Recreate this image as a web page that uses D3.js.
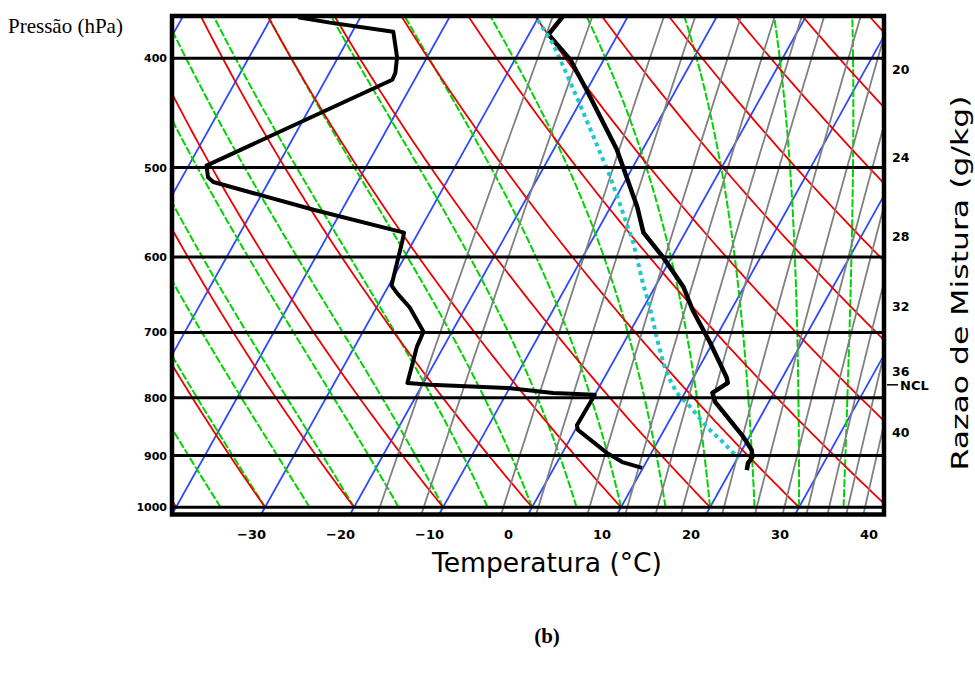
<!DOCTYPE html>
<html>
<head>
<meta charset="utf-8">
<script src="https://cdn.jsdelivr.net/npm/d3@7"></script>
<style>
  body { margin: 0; background: #fff; }
  svg { display: block; }
</style>
</head>
<body>
<div id="chart"></div>
<script>
// ---- dados ----
// niveis de pressao (hPa) e rotulos de temperatura (C)
const pressLevels = [400, 500, 600, 700, 800, 900, 1000];
const tempTicks = [-30, -20, -10, 0, 10, 20, 30, 40];

// linhas de fundo do diagrama skew-T
const isotherms = [-110, -100, -90, -80, -70, -60, -50, -40, -30, -20, -10, 0, 10, 20, 30, 40];
const dryTheta = [-40, -30, -20, -10, 0, 10, 20, 30, 40, 50, 60, 70, 80, 90, 100, 110];
const moistThw = [-40, -35, -30, -25, -20, -15, -10, -5, 0, 5, 10, 15, 20, 25, 30, 35];
const mixRatios = [1, 1.5, 3, 4, 6, 8, 10, 12, 16, 20, 24, 28, 32, 36, 40];
const mixLabels = [20, 24, 28, 32, 36, 40];
const mixLabelP = [410, 490, 576, 665, 759, 860];
const nclP = 779;

// sondagem: temperatura
const tempP = [367, 381, 401, 427, 482, 542, 571, 600, 638, 669, 715, 767, 776, 792, 807, 866, 890, 903, 914, 927];
const tempT = [-27.3, -27.8, -23.8, -20.0, -12.9, -7.0, -4.7, -1.0, 3.2, 5.7, 9.7, 13.7, 14.2, 13.1, 14.0, 19.3, 21.1, 21.6, 21.5, 21.8];
// temperatura do ponto de orvalho
const dewP = [370, 389, 410, 437, 468, 508, 538, 583, 633, 665, 711, 745, 771, 792, 815, 849, 875, 894, 905];
const dewT = [-29.9, -26.6, -23.7, -20.2, -16.5, -12.1, -9.2, -5.2, -1.6, 0.7, 3.6, 5.7, 7.5, 9.1, 11.5, 14.6, 17.3, 19.1, 20.1];
// segundo perfil (linha preta a esquerda)
const leftP = [368, 372, 379, 399, 412, 418, 498, 510, 515, 545, 571, 583, 636, 646, 665, 699, 721, 776, 779, 784, 792, 795, 846, 854, 895, 912, 923];
const leftT = [-57.0, -53.1, -45.4, -43.4, -42.6, -42.5, -58.0, -57.1, -56.2, -43.2, -31.6, -31.2, -29.7, -28.6, -26.3, -23.2, -23.0, -21.8, -19.1, -10.3, -4.8, 0.0, -0.1, 0.3, 5.0, 7.3, 9.9];

// ---- escalas ----
const WIDTH = 975, HEIGHT = 675;
const L = 172, R = 884, T0 = 16, B = 514.5;
const P_BOT = 1015, P_TOP = 367;
const SKEW = 0.558;

const xBase = d3.scaleLinear().domain([-40, 40]).range([L, R]);
const y = d3.scaleLog().domain([P_BOT, P_TOP]).range([B, T0]);
function sx(t, p) { return xBase(t) + SKEW * (y(P_BOT) - y(p)); }

const line = d3.line().x(d => sx(d.t, d.p)).y(d => y(d.p));

// termodinamica para as curvas de fundo
function es(tc) { return 6.112 * Math.exp(17.67 * tc / (tc + 243.5)); }
function dTdp(tk, p) {
    const e = es(tk - 273.15);
    const rs = 0.622 * e / (p - e);
    const Lv = 2.501e6, Rd = 287.04, Cp = 1005.7;
    return (Rd * tk + Lv * rs) / (p * (Cp + Lv * Lv * rs * 0.622 / (Rd * tk * tk)));
}
function moist(thw) {
    let tk = thw + 273.15, p = 1000;
    const pts = [{p: p, t: thw}];
    while (p > P_TOP - 5) {
        const dp = -2.5;
        const k1 = dTdp(tk, p);
        const k2 = dTdp(tk + k1 * dp / 2, p + dp / 2);
        tk += k2 * dp; p += dp;
        pts.push({p: p, t: tk - 273.15});
    }
    return pts;
}
function dry(th) {
    const pts = [];
    for (let p = 1000; p >= P_TOP - 5; p -= 5) {
        pts.push({p: p, t: (th + 273.15) * Math.pow(p / 1000, 0.2857) - 273.15});
    }
    return pts;
}
function mixing(w) {
    const pts = [];
    for (let p = P_BOT; p >= P_TOP - 5; p -= 5) {
        const lg = Math.log(w * p / 622 / 6.112);
        pts.push({p: p, t: 243.5 * lg / (17.67 - lg)});
    }
    return pts;
}
function zipProfile(ps, ts) { return ps.map((p, i) => ({p: p, t: ts[i]})); }

// ---- desenho ----
const svg = d3.select("#chart").append("svg")
    .attr("width", WIDTH).attr("height", HEIGHT)
    .style("font-family", "'DejaVu Sans', sans-serif");

svg.append("defs").append("clipPath").attr("id", "plot")
    .append("rect").attr("x", L).attr("y", T0).attr("width", R - L).attr("height", B - T0);

const g = svg.append("g").attr("clip-path", "url(#plot)");

// isotermas
g.selectAll(".iso").data(isotherms).enter().append("path")
    .attr("d", t => line([{p: P_BOT, t: t}, {p: P_TOP - 5, t: t}]))
    .attr("fill", "none").attr("stroke", "#2c48ff").attr("stroke-width", 1.8);

// adiabaticas umidas
g.selectAll(".moist").data(moistThw).enter().append("path")
    .attr("d", t => line(moist(t)))
    .attr("fill", "none").attr("stroke", "#00d400").attr("stroke-width", 2)
    .attr("stroke-dasharray", "8,2");

// adiabaticas secas
g.selectAll(".dry").data(dryTheta).enter().append("path")
    .attr("d", t => line(dry(t)))
    .attr("fill", "none").attr("stroke", "#ee0000").attr("stroke-width", 1.8);

// razao de mistura
g.selectAll(".mix").data(mixRatios).enter().append("path")
    .attr("d", w => line(mixing(w)))
    .attr("fill", "none").attr("stroke", "#808080").attr("stroke-width", 1.8);

// linhas de pressao
svg.selectAll(".plev").data(pressLevels).enter().append("line")
    .attr("x1", L).attr("x2", R)
    .attr("y1", p => y(p)).attr("y2", p => y(p))
    .attr("stroke", "#000").attr("stroke-width", 3);

// perfis
g.append("path").attr("d", line(zipProfile(leftP, leftT)))
    .attr("fill", "none").attr("stroke", "#000").attr("stroke-width", 4)
    .attr("stroke-linejoin", "round");
g.append("path").attr("d", line(zipProfile(tempP, tempT)))
    .attr("fill", "none").attr("stroke", "#000").attr("stroke-width", 4.5)
    .attr("stroke-linejoin", "round");
g.append("path").attr("d", line(zipProfile(dewP, dewT)))
    .attr("fill", "none").attr("stroke", "#1ccaca").attr("stroke-width", 4)
    .attr("stroke-dasharray", "4,4");

// moldura
svg.append("rect").attr("x", L).attr("y", T0).attr("width", R - L).attr("height", B - T0)
    .attr("fill", "none").attr("stroke", "#000").attr("stroke-width", 4.5);

// rotulos do eixo de pressao
svg.selectAll(".plab").data(pressLevels).enter().append("text")
    .attr("x", 167).attr("y", p => y(p) + 4)
    .attr("text-anchor", "end").attr("font-size", 11).attr("font-weight", "bold")
    .text(p => p);

// rotulos de temperatura
svg.selectAll(".tlab").data(tempTicks).enter().append("text")
    .attr("x", t => xBase(t) - 24).attr("y", 538.5)
    .attr("font-size", 13).attr("font-weight", "bold")
    .text(t => (t < 0 ? "\u2212" + Math.abs(t) : t));

// rotulos da razao de mistura
svg.selectAll(".mlab").data(mixLabels).enter().append("text")
    .attr("x", 892).attr("y", (w, i) => y(mixLabelP[i]) + 4.2)
    .attr("font-size", 12.5).attr("font-weight", "bold")
    .text(w => w);

// NCL
svg.append("line").attr("x1", 887).attr("x2", 898)
    .attr("y1", y(nclP)).attr("y2", y(nclP))
    .attr("stroke", "#000").attr("stroke-width", 1.5);
svg.append("text").attr("x", 900).attr("y", y(nclP) + 5.5)
    .attr("font-size", 13).attr("font-weight", "bold").text("NCL");

// titulos
svg.append("text").attr("x", 547).attr("y", 572)
    .attr("text-anchor", "middle").attr("font-size", 26)
    .attr("textLength", 230).attr("lengthAdjust", "spacingAndGlyphs")
    .text("Temperatura (\u00b0C)");

svg.append("text")
    .attr("transform", "translate(968,283) rotate(-90)")
    .attr("text-anchor", "middle").attr("font-size", 23)
    .attr("textLength", 375).attr("lengthAdjust", "spacingAndGlyphs")
    .text("Razao de Mistura (g/kg)");

svg.append("text").attr("x", 8).attr("y", 33)
    .attr("font-family", "'Liberation Serif', 'Times New Roman', serif")
    .attr("font-size", 21).text("Press\u00e3o (hPa)");

svg.append("text").attr("x", 547).attr("y", 643)
    .attr("text-anchor", "middle")
    .attr("font-family", "'Liberation Serif', 'Times New Roman', serif")
    .attr("font-size", 21).attr("font-weight", "bold").text("(b)");
</script>
</body>
</html>
